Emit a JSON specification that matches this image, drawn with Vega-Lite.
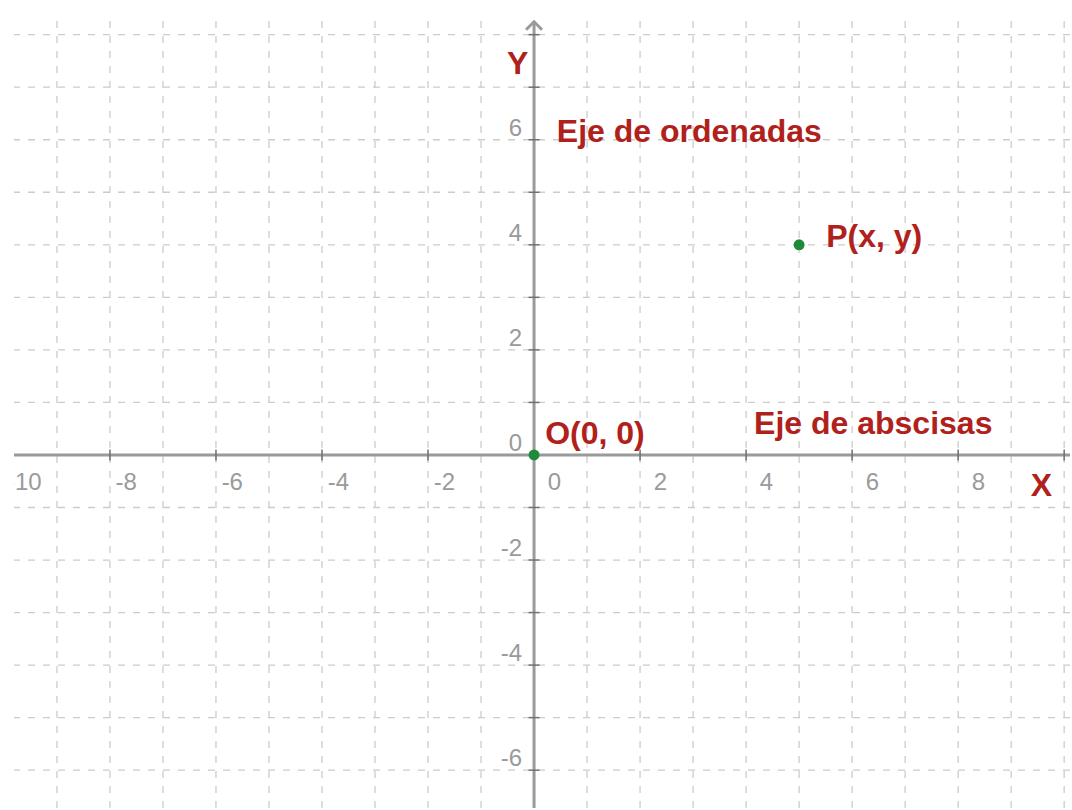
{
  "$schema": "https://vega.github.io/schema/vega-lite/v6.json",
  "width": 1072,
  "height": 810,
  "autosize": {"type": "fit", "contains": "padding"},
  "padding": {"left": 12, "top": 15, "right": 0, "bottom": 0},
  "background": "white",
  "config": {"view": {"stroke": null}, "font": "Liberation Sans"},
  "datasets": {
    "gridx": [{"v": -9}, {"v": -8}, {"v": -7}, {"v": -6}, {"v": -5}, {"v": -4}, {"v": -3}, {"v": -2}, {"v": -1}, {"v": 0},
              {"v": 1}, {"v": 2}, {"v": 3}, {"v": 4}, {"v": 5}, {"v": 6}, {"v": 7}, {"v": 8}, {"v": 9}, {"v": 10}],
    "gridy": [{"v": -6}, {"v": -5}, {"v": -4}, {"v": -3}, {"v": -2}, {"v": -1}, {"v": 0},
              {"v": 1}, {"v": 2}, {"v": 3}, {"v": 4}, {"v": 5}, {"v": 6}, {"v": 7}, {"v": 8}],
    "xticks": [{"v": -8}, {"v": -6}, {"v": -4}, {"v": -2}, {"v": 2}, {"v": 4}, {"v": 6}, {"v": 8}, {"v": 10}],
    "yticks": [{"v": -6}, {"v": -5}, {"v": -4}, {"v": -3}, {"v": -2}, {"v": -1},
               {"v": 1}, {"v": 2}, {"v": 3}, {"v": 4}, {"v": 5}, {"v": 6}, {"v": 7}, {"v": 8}],
    "xlabels": [{"v": -8}, {"v": -6}, {"v": -4}, {"v": -2}, {"v": 0}, {"v": 2}, {"v": 4}, {"v": 6}, {"v": 8}],
    "xlabelsEdge": [{"v": -10}],
    "ylabels": [{"v": -6}, {"v": -4}, {"v": -2}, {"v": 0}, {"v": 2}, {"v": 4}, {"v": 6}],
    "notes": [
      {"label": "Eje de ordenadas", "x": 0.43, "y": 5.96},
      {"label": "Eje de abscisas", "x": 4.15, "y": 0.39},
      {"label": "O(0, 0)", "x": 0.21, "y": 0.2},
      {"label": "P(x, y)", "x": 5.51, "y": 3.96}
    ],
    "axisnames": [
      {"label": "Y", "x": -0.31, "y": 7.26},
      {"label": "X", "x": 9.57, "y": -0.78}
    ],
    "points": [
      {"name": "O", "x": 0, "y": 0},
      {"name": "P", "x": 5, "y": 4}
    ]
  },
  "layer": [
    {
      "data": {"name": "gridx"},
      "mark": {"type": "rule", "color": "#cccccc", "strokeWidth": 1.3, "strokeDash": [7, 8]},
      "encoding": {
        "x": {"field": "v", "type": "quantitative", "scale": {"domain": [-9.81, 10.11], "nice": false, "zero": false}, "axis": null}
      }
    },
    {
      "data": {"name": "gridy"},
      "mark": {"type": "rule", "color": "#cccccc", "strokeWidth": 1.3, "strokeDash": [7, 8]},
      "encoding": {
        "y": {"field": "v", "type": "quantitative", "scale": {"domain": [-6.72, 8.26], "nice": false, "zero": false}, "axis": null}
      }
    },
    {
      "data": {"values": [{}]},
      "mark": {"type": "rule", "color": "#9a9a9a", "strokeWidth": 3},
      "encoding": {
        "x": {"datum": 0, "type": "quantitative", "scale": {"domain": [-9.81, 10.11], "nice": false, "zero": false}, "axis": null}
      }
    },
    {
      "data": {"values": [{}]},
      "mark": {"type": "rule", "color": "#9a9a9a", "strokeWidth": 3},
      "encoding": {
        "y": {"datum": 0, "type": "quantitative", "scale": {"domain": [-6.72, 8.26], "nice": false, "zero": false}, "axis": null}
      }
    },
    {
      "data": {"values": [{}]},
      "mark": {"type": "point", "shape": "M-1,0.7L0,-0.3L1,0.7", "filled": false, "stroke": "#9a9a9a", "strokeWidth": 3, "size": 256, "opacity": 1},
      "encoding": {
        "x": {"datum": 0, "type": "quantitative", "scale": {"domain": [-9.81, 10.11], "nice": false, "zero": false}, "axis": null},
        "y": {"datum": 8.2, "type": "quantitative", "scale": {"domain": [-6.72, 8.26], "nice": false, "zero": false}, "axis": null}
      }
    },
    {
      "data": {"name": "xticks"},
      "mark": {"type": "tick", "orient": "vertical", "size": 11, "thickness": 1.5, "color": "#707070", "opacity": 1},
      "encoding": {
        "x": {"field": "v", "type": "quantitative", "scale": {"domain": [-9.81, 10.11], "nice": false, "zero": false}, "axis": null},
        "y": {"datum": 0, "type": "quantitative", "scale": {"domain": [-6.72, 8.26], "nice": false, "zero": false}, "axis": null}
      }
    },
    {
      "data": {"name": "yticks"},
      "mark": {"type": "tick", "orient": "horizontal", "size": 11, "thickness": 1.5, "color": "#707070", "opacity": 1},
      "encoding": {
        "x": {"datum": 0, "type": "quantitative", "scale": {"domain": [-9.81, 10.11], "nice": false, "zero": false}, "axis": null},
        "y": {"field": "v", "type": "quantitative", "scale": {"domain": [-6.72, 8.26], "nice": false, "zero": false}, "axis": null}
      }
    },
    {
      "data": {"name": "xlabels"},
      "mark": {"type": "text", "align": "right", "baseline": "alphabetic", "dx": 27, "dy": 35, "fontSize": 24, "color": "#9a9a9a", "clip": true},
      "encoding": {
        "x": {"field": "v", "type": "quantitative", "scale": {"domain": [-9.81, 10.11], "nice": false, "zero": false}, "axis": null},
        "y": {"datum": 0, "type": "quantitative", "scale": {"domain": [-6.72, 8.26], "nice": false, "zero": false}, "axis": null},
        "text": {"field": "v", "type": "nominal"}
      }
    },
    {
      "data": {"name": "xlabelsEdge"},
      "mark": {"type": "text", "align": "left", "baseline": "alphabetic", "dx": 3, "dy": 35, "fontSize": 24, "color": "#9a9a9a", "clip": true},
      "encoding": {
        "x": {"field": "v", "type": "quantitative", "scale": {"domain": [-9.81, 10.11], "nice": false, "zero": false}, "axis": null},
        "y": {"datum": 0, "type": "quantitative", "scale": {"domain": [-6.72, 8.26], "nice": false, "zero": false}, "axis": null},
        "text": {"field": "v", "type": "nominal"}
      }
    },
    {
      "data": {"name": "ylabels"},
      "mark": {"type": "text", "align": "right", "baseline": "alphabetic", "dx": -12, "dy": -4, "fontSize": 24, "color": "#9a9a9a", "clip": true},
      "encoding": {
        "x": {"datum": 0, "type": "quantitative", "scale": {"domain": [-9.81, 10.11], "nice": false, "zero": false}, "axis": null},
        "y": {"field": "v", "type": "quantitative", "scale": {"domain": [-6.72, 8.26], "nice": false, "zero": false}, "axis": null},
        "text": {"field": "v", "type": "nominal"}
      }
    },
    {
      "data": {"name": "notes"},
      "mark": {"type": "text", "align": "left", "baseline": "alphabetic", "fontSize": 32, "fontWeight": "bold", "color": "#b0211c", "clip": true},
      "encoding": {
        "x": {"field": "x", "type": "quantitative", "scale": {"domain": [-9.81, 10.11], "nice": false, "zero": false}, "axis": null},
        "y": {"field": "y", "type": "quantitative", "scale": {"domain": [-6.72, 8.26], "nice": false, "zero": false}, "axis": null},
        "text": {"field": "label", "type": "nominal"}
      }
    },
    {
      "data": {"name": "axisnames"},
      "mark": {"type": "text", "align": "center", "baseline": "alphabetic", "fontSize": 32, "fontWeight": "bold", "color": "#b0211c", "clip": true},
      "encoding": {
        "x": {"field": "x", "type": "quantitative", "scale": {"domain": [-9.81, 10.11], "nice": false, "zero": false}, "axis": null},
        "y": {"field": "y", "type": "quantitative", "scale": {"domain": [-6.72, 8.26], "nice": false, "zero": false}, "axis": null},
        "text": {"field": "label", "type": "nominal"}
      }
    },
    {
      "data": {"name": "points"},
      "mark": {"type": "circle", "size": 120, "color": "#1f8a3b", "opacity": 1},
      "encoding": {
        "x": {"field": "x", "type": "quantitative", "scale": {"domain": [-9.81, 10.11], "nice": false, "zero": false}, "axis": null},
        "y": {"field": "y", "type": "quantitative", "scale": {"domain": [-6.72, 8.26], "nice": false, "zero": false}, "axis": null}
      }
    }
  ]
}
